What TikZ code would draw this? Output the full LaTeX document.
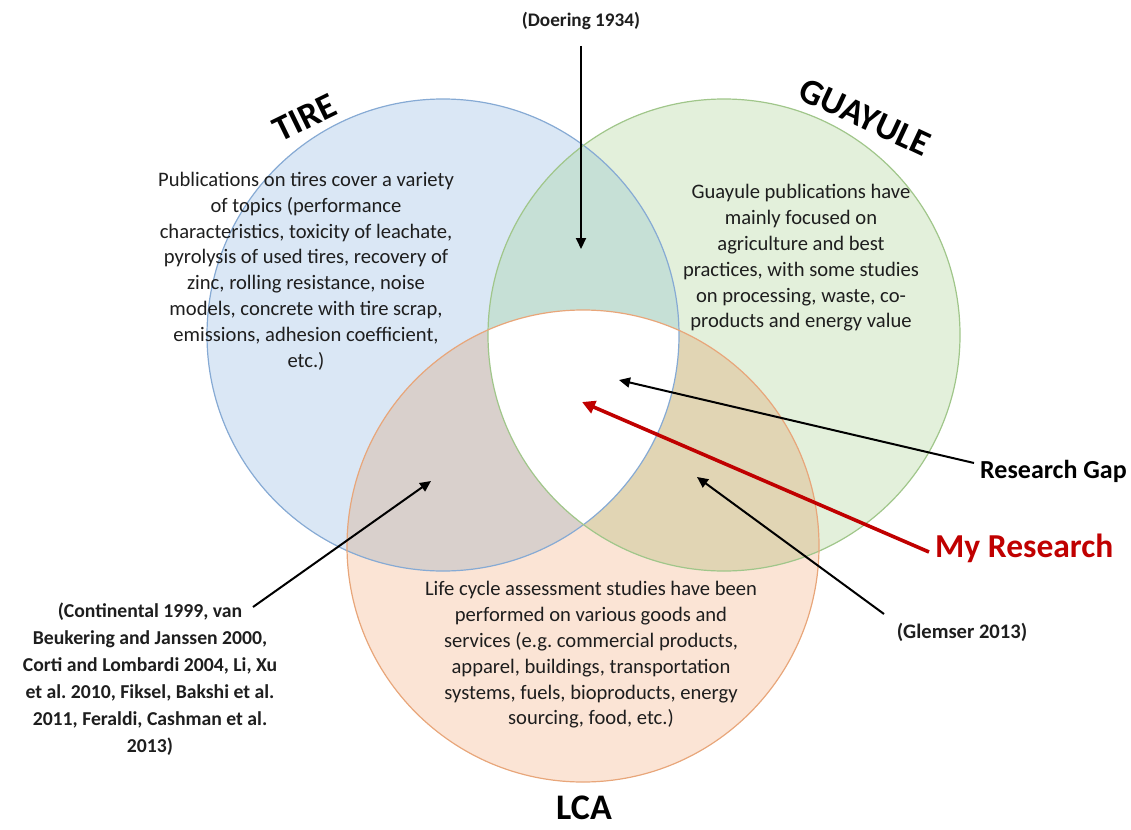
\documentclass[tikz,border=0pt]{standalone}
\usepackage{fontspec}
\setmainfont{Carlito}
\usetikzlibrary{arrows.meta}
\frenchspacing
\definecolor{bluefill}{HTML}{DAE7F5}
\definecolor{greenfill}{HTML}{E3F0DB}
\definecolor{orangefill}{HTML}{FBE4D5}
\definecolor{bgfill}{HTML}{C6E0D6}
\definecolor{bofill}{HTML}{D9D0CC}
\definecolor{gofill}{HTML}{E1D5B4}
\definecolor{blueline}{HTML}{86AAD4}
\definecolor{greenline}{HTML}{A0C68A}
\definecolor{orangeline}{HTML}{E8A67A}
\definecolor{myred}{HTML}{C00000}
\definecolor{txt}{HTML}{1E1E1E}
\tikzset{
  body/.style={align=center, text=txt, font=\frenchspacing\fontsize{20.6}{25.8}\selectfont, inner sep=0pt},
  cite/.style={align=center, text=txt, font=\frenchspacing\bfseries\fontsize{19.7}{27}\selectfont, inner sep=0pt},
  title/.style={text=black, font=\bfseries\fontsize{36}{40}\selectfont, inner sep=0pt},
  arr/.style={line width=2pt, -{Triangle[length=11pt,width=10pt]}},
  redarr/.style={line width=3.6pt, draw=myred, -{Triangle[length=13pt,width=13pt]}}
}
\begin{document}
\begin{tikzpicture}[x=1pt,y=-1pt]
\useasboundingbox (0,0) rectangle (1131,829);
\coordinate (B) at (443,335);
\coordinate (G) at (724,335);
\coordinate (O) at (583,546);
\def\R{236pt}
% regions
\fill[bluefill] (B) circle[radius=\R];
\fill[greenfill] (G) circle[radius=\R];
\fill[orangefill] (O) circle[radius=\R];
\begin{scope}\clip (B) circle[radius=\R]; \fill[bgfill] (G) circle[radius=\R];\end{scope}
\begin{scope}\clip (B) circle[radius=\R]; \fill[bofill] (O) circle[radius=\R];\end{scope}
\begin{scope}\clip (G) circle[radius=\R]; \fill[gofill] (O) circle[radius=\R];\end{scope}
\begin{scope}\clip (B) circle[radius=\R]; \clip (G) circle[radius=\R]; \fill[white] (O) circle[radius=\R];\end{scope}
% outlines
\draw[blueline, line width=1.2pt] (B) circle[radius=\R];
\draw[greenline, line width=1.2pt] (G) circle[radius=\R];
\draw[orangeline, line width=1.2pt] (O) circle[radius=\R];
% titles
\node[title, rotate=26] (tire) at (305,118) {TIRE};
\node[title, rotate=-25] (guay) at (865,117) {GUAYULE};
\node[title] (lca) at (584,808) {LCA};
% body texts
\node[body] (tiretxt) at (306,271) {Publications on tires cover a variety\\of topics (performance\\characteristics, toxicity of leachate,\\pyrolysis of used tires, recovery of\\zinc, rolling resistance, noise\\models, concrete with tire scrap,\\emissions, adhesion coefficient,\\etc.)};
\node[body] (guaytxt) at (801,258) {Guayule publications have\\mainly focused on\\agriculture and best\\practices, with some studies\\on processing, waste, co-\\products and energy value};
\node[body] (lcatxt) at (591,655) {Life cycle assessment studies have been\\performed on various goods and\\services (e.g. commercial products,\\apparel, buildings, transportation\\systems, fuels, bioproducts, energy\\sourcing, food, etc.)};
% labels
\node[cite, font=\bfseries\fontsize{19.2}{22}\selectfont] (doer) at (581,21) {(Doering 1934)};
\node[cite] (cont) at (150,679) {(Continental 1999, van\\Beukering and Janssen 2000,\\Corti and Lombardi 2004, Li, Xu\\et al. 2010, Fiksel, Bakshi et al.\\2011, Feraldi, Cashman et al.\\2013)};
\node[cite, anchor=west, font=\bfseries\fontsize{26}{30}\selectfont, text=black] (gap) at (980,471) {Research Gap};
\node[cite, anchor=west, font=\bfseries\fontsize{33.5}{38}\selectfont, text=myred] (mine) at (935,548) {My Research};
\node[cite, font=\bfseries\fontsize{20.6}{24}\selectfont] (glem) at (962,632) {(Glemser 2013)};
% arrow targets
\coordinate (tDoer) at (581,249);
\coordinate (tGap) at (619,380);
\coordinate (tMine) at (582,402);
\coordinate (tGlem) at (697,477);
\coordinate (tCont) at (431,481);
% arrows
\draw[arr] (doer) ++(0,25) -- (tDoer);
\draw[arr] (gap.west) ++(-6,-8) -- (tGap);
\draw[redarr] (mine.west) ++(-6,4) -- (tMine);
\draw[arr] (glem) ++(-78,-18) -- (tGlem);
\draw[arr] (cont) ++(103,-72) -- (tCont);
\end{tikzpicture}
\end{document}
